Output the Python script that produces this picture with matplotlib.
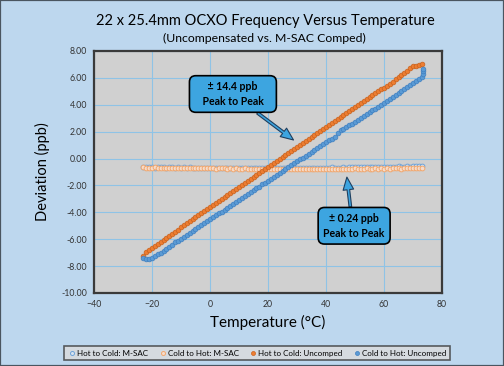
import numpy as np
import matplotlib
matplotlib.use('Agg')
import matplotlib.pyplot as plt
from matplotlib.patches import Rectangle

plt.rcParams['font.family'] = ['Lato', 'DejaVu Sans']

# temperatures (deg C), one reading per degree
temp = np.arange(-23, 74)

# M-SAC compensated runs (ppb)
msac_cold_hot = [
    -0.66, -0.68, -0.67, -0.69, -0.66, -0.68, -0.70, -0.67, -0.69, -0.68,
    -0.70, -0.68, -0.71, -0.69, -0.72, -0.70, -0.71, -0.69, -0.72, -0.70,
    -0.73, -0.71, -0.74, -0.72, -0.73, -0.75, -0.72, -0.74, -0.73, -0.75,
    -0.74, -0.76, -0.73, -0.75, -0.77, -0.74, -0.76, -0.75, -0.78, -0.76,
    -0.77, -0.75, -0.78, -0.76, -0.79, -0.77, -0.76, -0.78, -0.80, -0.77,
    -0.78, -0.76, -0.79, -0.77, -0.78, -0.80, -0.77, -0.79, -0.78, -0.76,
    -0.78, -0.77, -0.79, -0.76, -0.78, -0.77, -0.75, -0.78, -0.76, -0.77,
    -0.75, -0.77, -0.76, -0.74, -0.77, -0.75, -0.76, -0.74, -0.76, -0.75,
    -0.73, -0.75, -0.74, -0.76, -0.73, -0.75, -0.72, -0.74, -0.73, -0.75,
    -0.72, -0.74, -0.71, -0.73, -0.72, -0.70, -0.71]
msac_hot_cold = [
    -0.64, -0.66, -0.63, -0.65, -0.67, -0.64, -0.66, -0.65, -0.67, -0.64,
    -0.66, -0.68, -0.65, -0.67, -0.66, -0.68, -0.66, -0.69, -0.67, -0.68,
    -0.70, -0.68, -0.69, -0.71, -0.69, -0.70, -0.72, -0.70, -0.71, -0.69,
    -0.71, -0.73, -0.70, -0.72, -0.71, -0.73, -0.72, -0.70, -0.73, -0.71,
    -0.72, -0.70, -0.73, -0.71, -0.72, -0.74, -0.71, -0.73, -0.70, -0.72,
    -0.71, -0.73, -0.70, -0.72, -0.69, -0.71, -0.70, -0.72, -0.69, -0.70,
    -0.68, -0.70, -0.67, -0.69, -0.68, -0.66, -0.69, -0.67, -0.68, -0.66,
    -0.67, -0.65, -0.66, -0.64, -0.66, -0.65, -0.63, -0.65, -0.64, -0.62,
    -0.64, -0.62, -0.63, -0.61, -0.63, -0.60, -0.62, -0.61, -0.59, -0.61,
    -0.60, -0.58, -0.60, -0.57, -0.59, -0.56, -0.58]

# uncompensated runs (ppb)
unc_hot_cold = [
    -7.25, -6.95, -6.80, -6.65, -6.52, -6.36, -6.22, -6.05, -5.90, -5.75,
    -5.58, -5.44, -5.28, -5.12, -4.98, -4.82, -4.68, -4.52, -4.38, -4.22,
    -4.07, -3.92, -3.77, -3.62, -3.47, -3.32, -3.17, -3.02, -2.87, -2.72,
    -2.58, -2.43, -2.28, -2.13, -1.98, -1.83, -1.68, -1.53, -1.38, -1.23,
    -1.08, -0.93, -0.78, -0.63, -0.48, -0.33, -0.18, -0.03, 0.12, 0.27,
    0.42, 0.57, 0.72, 0.87, 1.02, 1.17, 1.32, 1.47, 1.62, 1.77,
    1.92, 2.07, 2.22, 2.37, 2.52, 2.67, 2.82, 2.97, 3.11, 3.26,
    3.40, 3.55, 3.69, 3.84, 3.98, 4.12, 4.27, 4.41, 4.56, 4.70,
    4.85, 4.99, 5.14, 5.28, 5.43, 5.58, 5.73, 5.89, 6.04, 6.20,
    6.36, 6.52, 6.70, 6.88, 6.90, 6.95, 7.05]
unc_cold_hot = [
    -7.40, -7.48, -7.50, -7.40, -7.27, -7.13, -6.99, -6.85, -6.70, -6.56,
    -6.41, -6.24, -6.10, -5.96, -5.82, -5.67, -5.53, -5.38, -5.24, -5.10,
    -4.95, -4.81, -4.66, -4.52, -4.37, -4.23, -4.08, -3.94, -3.80, -3.65,
    -3.51, -3.37, -3.22, -3.08, -2.94, -2.79, -2.65, -2.51, -2.36, -2.22,
    -2.08, -1.93, -1.79, -1.65, -1.50, -1.36, -1.22, -1.07, -0.93, -0.79,
    -0.65, -0.50, -0.36, -0.22, -0.07, 0.07, 0.21, 0.36, 0.50, 0.64,
    0.79, 0.93, 1.07, 1.22, 1.36, 1.48, 1.62, 1.90, 2.10, 2.20,
    2.33, 2.46, 2.60, 2.74, 2.88, 3.02, 3.16, 3.30, 3.44, 3.58,
    3.72, 3.86, 4.00, 4.14, 4.29, 4.43, 4.58, 4.72, 4.87, 5.01,
    5.16, 5.31, 5.46, 5.61, 5.77, 5.93, 6.09]
# dwell at the hot end
hook_temp = [73.3, 73.5, 73.6]
hook_dev = [6.30, 6.50, 6.66]

xticks = [-40, -20, 0, 20, 40, 60, 80]
yticks = [8, 6, 4, 2, 0, -2, -4, -6, -8, -10]

fig = plt.figure(figsize=(5.04, 3.66), dpi=100)
fig.patch.set_facecolor('#BDD7EE')
fig.patches.append(Rectangle((0, 0), 1, 1, transform=fig.transFigure,
                             fill=False, ec='#4a5560', lw=1.6))
ax = fig.add_axes([0.1865, 0.1995, 0.6905, 0.6612])
ax.set_facecolor('#D0D0D0')

ms = 3.4
ax.plot(temp, msac_hot_cold, 'o', ls='none', ms=ms, mfc='#d8e4f0', mec='#6fa3d8', mew=0.7,
        label='Hot to Cold: M-SAC')
ax.plot(temp, msac_cold_hot, 'o', ls='none', ms=ms, mfc='#f6dccb', mec='#f2a86f', mew=0.7,
        label='Cold to Hot: M-SAC')
ax.plot(temp, unc_hot_cold, 'o', ls='none', ms=ms, mfc='#ED7D31', mec='#c8621e', mew=0.5,
        label='Hot to Cold: Uncomped')
ax.plot(np.concatenate([temp, hook_temp]), unc_cold_hot + hook_dev, 'o', ls='none', ms=ms,
        mfc='#5B9BD5', mec='#3f7fc0', mew=0.5, label='Cold to Hot: Uncomped')

ax.set_xlim(-40, 80)
ax.set_ylim(-10, 8)
ax.set_xticks(xticks)
ax.set_yticks(yticks)
ax.set_yticklabels(['%.2f' % v for v in yticks])
ax.tick_params(length=0, labelsize=6.3, labelcolor='#333333', pad=5)
ax.grid(True, color='#8fc3e6', lw=0.8)
ax.set_axisbelow(True)
for s in ax.spines.values():
    s.set_color('#3a3a3a')
    s.set_linewidth(1.6)

ax.set_xlabel('Temperature (°C)', fontsize=11, labelpad=4)
ax.set_ylabel('Deviation (ppb)', fontsize=10.5, labelpad=8)
fig.text(0.527, 0.943, '22 x 25.4mm OCXO Frequency Versus Temperature',
         ha='center', va='center', fontsize=10.5)
fig.text(0.524, 0.896, '(Uncompensated vs. M-SAC Comped)',
         ha='center', va='center', fontsize=8.8)

box = dict(boxstyle='round,pad=0.5,rounding_size=0.6', fc='#3DA5E0', ec='black', lw=1.2)
arr = dict(arrowstyle='simple,head_length=1.2,head_width=1.0,tail_width=0.25',
           fc='#3DA5E0', ec='#1f3f5f', lw=0.8, shrinkA=0, shrinkB=0)
ax.annotate('   ± 14.4 ppb   \n   Peak to Peak   ', xy=(28.8, 1.38), xytext=(7.9, 4.8),
            ha='center', va='center', fontsize=7.6, fontweight='bold', linespacing=1.45,
            bbox=box, arrowprops=dict(arr, relpos=(0.72, 0.0)))
ax.annotate('± 0.24 ppb\nPeak to Peak', xy=(47.2, -1.38), xytext=(49.7, -5.0),
            ha='center', va='center', fontsize=7.6, fontweight='bold', linespacing=1.45,
            bbox=box, arrowprops=dict(arr, relpos=(0.45, 1.0)))

leg = fig.legend(loc='center', bbox_to_anchor=(0.51, 0.0355), ncol=4, fontsize=5.8,
                 frameon=True, fancybox=False, handletextpad=0.05, columnspacing=1.3,
                 borderpad=0.45, handlelength=1.1, markerscale=0.85)
leg.get_frame().set_facecolor('#DCDCDC')
leg.get_frame().set_edgecolor('#3a3a3a')
leg.get_frame().set_linewidth(1.2)

fig.savefig('out.png', dpi=100, facecolor=fig.get_facecolor())
